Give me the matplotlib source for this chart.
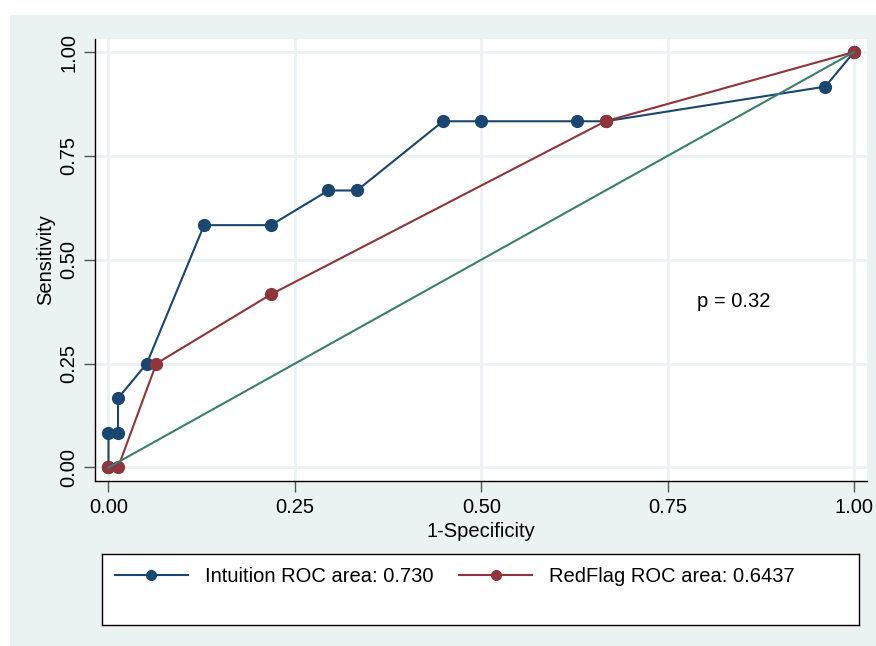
import matplotlib.pyplot as plt
from matplotlib.lines import Line2D
from matplotlib.patches import Rectangle

# ROC points (78 negatives, 12 positives)
intuition_fpr = [0, 0, 0.0128, 0.0128, 0.0513, 0.1282, 0.2179, 0.2949, 0.3333,
                 0.4487, 0.5, 0.6282, 0.6667, 0.9615, 1]
intuition_tpr = [0, 0.0833, 0.0833, 0.1667, 0.25, 0.5833, 0.5833, 0.6667, 0.6667,
                 0.8333, 0.8333, 0.8333, 0.8333, 0.9167, 1]
redflag_fpr = [0, 0.0128, 0.0641, 0.2179, 0.6667, 1]
redflag_tpr = [0, 0, 0.25, 0.4167, 0.8333, 1]
ref_x = [0, 1]
ref_y = [0, 1]
ticks = [0, 0.25, 0.5, 0.75, 1]
tick_labels = ["0.00", "0.25", "0.50", "0.75", "1.00"]
legend_labels = ["Intuition ROC area: 0.730", "RedFlag ROC area: 0.6437"]

navy = "#1A476F"
maroon = "#90353B"
green = "#3A806F"
bg = "#EAF2F3"
fs = 14.5

plt.rcParams['font.family'] = ['Liberation Sans', 'DejaVu Sans']

W, H = 876, 646
fig = plt.figure(figsize=(W / 100, H / 100), dpi=100, facecolor="white")

# light graph region (white strip on top and left)
fig.add_artist(Rectangle((10 / W, 0), 1 - 10 / W, 1 - 15 / H,
                         transform=fig.transFigure, facecolor=bg,
                         edgecolor="none", zorder=-10))

ax = fig.add_axes([95 / W, (H - 481) / H, (867 - 95) / W, (481 - 39) / H])
ax.set_facecolor("white")
ax.set_xlim(-0.0181, 1.0174)
ax.set_ylim(-0.0325, 1.0313)

ax.plot(intuition_fpr, intuition_tpr, color=navy, lw=1.5, marker="o", ms=8.5, zorder=3)
ax.plot(redflag_fpr, redflag_tpr, color=maroon, lw=1.5, marker="o", ms=8.5, zorder=4)
ax.plot(ref_x, ref_y, color=green, lw=1.5, zorder=5)

ax.set_xticks(ticks)
ax.set_xticklabels(tick_labels)
ax.set_yticks(ticks)
ax.set_yticklabels(tick_labels, rotation=90, va="center")
ax.tick_params(labelsize=fs, length=8, width=1, color="#555555", pad=4)
ax.grid(True, color=bg, lw=2)
ax.set_axisbelow(True)

for side in ["top", "right"]:
    ax.spines[side].set_visible(False)
for side in ["left", "bottom"]:
    ax.spines[side].set_color("black")
    ax.spines[side].set_linewidth(1)

ax.set_xlabel("1-Specificity", fontsize=fs, labelpad=4)
ax.set_ylabel("Sensitivity", fontsize=fs, labelpad=3)

ax.text(0.79, 0.40, "p = 0.32", fontsize=fs, ha="left", va="center")

# legend box
lax = fig.add_axes([102 / W, (H - 625) / H, (859 - 102) / W, (625 - 554) / H])
lax.set_facecolor("white")
lax.set_xticks([])
lax.set_yticks([])
for s in lax.spines.values():
    s.set_color("black")
    s.set_linewidth(1)

handles = [Line2D([], [], color=navy, lw=1.5, marker="o", ms=7),
           Line2D([], [], color=maroon, lw=1.5, marker="o", ms=7)]
lax.legend(handles, legend_labels, ncol=2, loc="upper left", frameon=False,
           fontsize=fs, handlelength=3.6, handletextpad=0.85, columnspacing=1.3,
           borderaxespad=0.25, bbox_to_anchor=(0.0, 1.0))

fig.savefig("out.png", dpi=100, facecolor="white")
